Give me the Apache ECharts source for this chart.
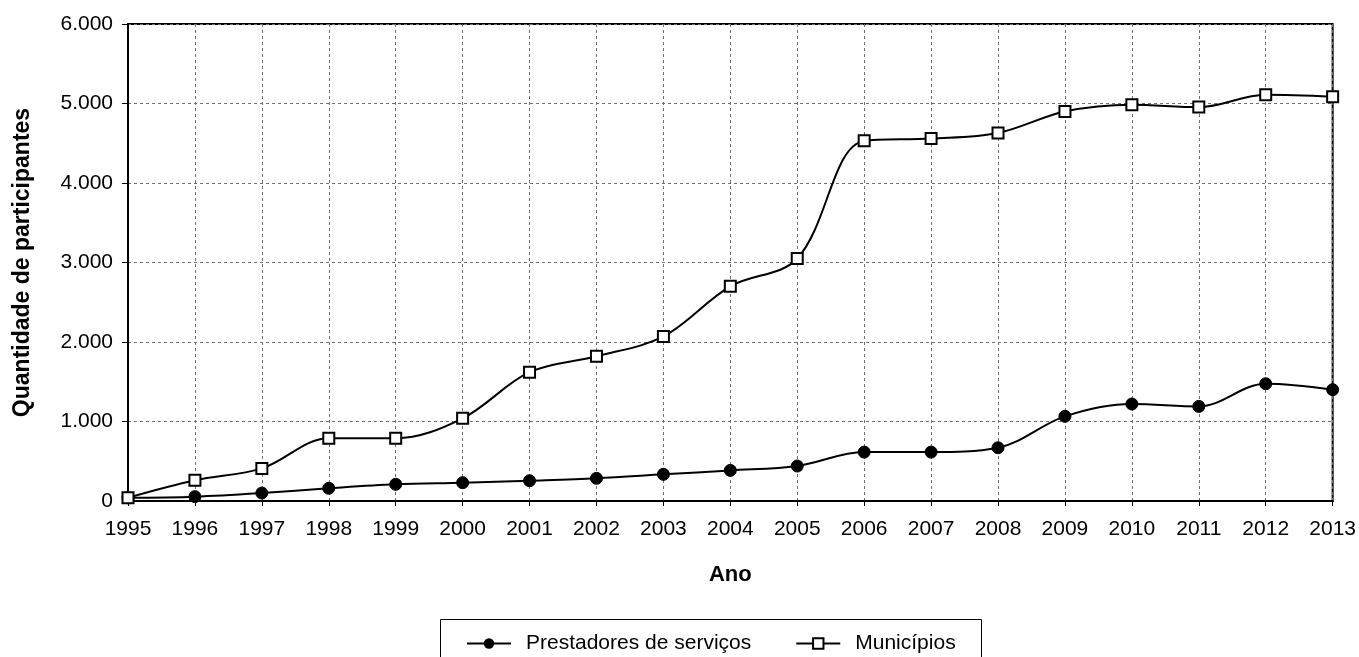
<!DOCTYPE html>
<html>
<head>
<meta charset="utf-8">
<script src="https://cdn.jsdelivr.net/npm/echarts@6/dist/echarts.min.js"></script>
<style>
html,body{margin:0;padding:0;background:#fff;}
#chart{width:1359px;height:657px;}
</style>
</head>
<body>
<div id="chart"></div>
<script>
const years = ['1995','1996','1997','1998','1999','2000','2001','2002','2003','2004','2005','2006','2007','2008','2009','2010','2011','2012','2013'];
const prestadores = [40, 55, 100, 160, 210, 230, 255, 285, 335, 385, 440, 615, 615, 670, 1065, 1220, 1190, 1475, 1400];
const municipios = [40, 260, 410, 790, 790, 1040, 1620, 1820, 2070, 2700, 3050, 4530, 4560, 4630, 4900, 4985, 4955, 5110, 5085];
const yTicks = [0, 1000, 2000, 3000, 4000, 5000, 6000];

const font = 'Liberation Sans, Arial, sans-serif';
const fs = 21;
const chart = echarts.init(document.getElementById('chart'));
chart.setOption({
  animation: false,
  backgroundColor: '#fff',
  grid: {left: 128, right: 24, top: 24, bottom: 156, show: true, borderColor: '#000', borderWidth: 2, backgroundColor: 'transparent'},
  legend: {
    top: 628, left: 461,
    itemWidth: 44, itemHeight: 13, itemGap: 44,
    textStyle: {fontFamily: font, fontSize: fs, color: '#000', padding: [0, 0, 0, 10]},
    data: ['Prestadores de serviços', 'Municípios']
  },
  graphic: [{type: 'rect', left: 438, top: 617, shape: {width: 541, height: 60}, style: {fill: 'none', stroke: '#000', lineWidth: 1}, z: 100}],
  xAxis: {
    type: 'category', data: years, boundaryGap: false,
    name: 'Ano', nameLocation: 'middle', nameGap: 63,
    nameTextStyle: {fontFamily: font, fontSize: 22, fontWeight: 'bold', color: '#000'},
    axisLine: {lineStyle: {color: '#000', width: 2}},
    axisTick: {show: true, length: 5, lineStyle: {color: '#000'}},
    axisLabel: {fontFamily: font, fontSize: fs, color: '#000', margin: 18},
    splitLine: {show: true, lineStyle: {color: '#707070', type: [3, 3], width: 1}}
  },
  yAxis: {
    type: 'value', min: 0, max: 6000, interval: 1000,
    name: 'Quantidade de participantes', nameLocation: 'middle', nameGap: 94,
    nameTextStyle: {fontFamily: font, fontSize: 23, fontWeight: 'bold', color: '#000'},
    axisLine: {show: true, lineStyle: {color: '#000', width: 2}},
    axisTick: {show: true, length: 6, lineStyle: {color: '#000'}},
    axisLabel: {fontFamily: font, fontSize: fs, color: '#000', margin: 15,
      formatter: v => yTicks.includes(v) ? String(v).replace(/\B(?=(\d{3})+(?!\d))/g, '.') : ''},
    splitLine: {show: true, lineStyle: {color: '#707070', type: [3, 3], width: 1}}
  },
  series: [
    {name: 'Prestadores de serviços', type: 'line', data: prestadores, smooth: 0.35,
     symbol: 'circle', symbolSize: 12, showAllSymbol: true,
     lineStyle: {color: '#000', width: 2}, itemStyle: {color: '#000', borderColor: '#000'}},
    {name: 'Municípios', type: 'line', data: municipios, smooth: 0.35,
     symbol: 'rect', symbolSize: 11, showAllSymbol: true,
     lineStyle: {color: '#000', width: 2}, itemStyle: {color: '#fff', borderColor: '#000', borderWidth: 2}}
  ]
});
</script>
</body>
</html>
